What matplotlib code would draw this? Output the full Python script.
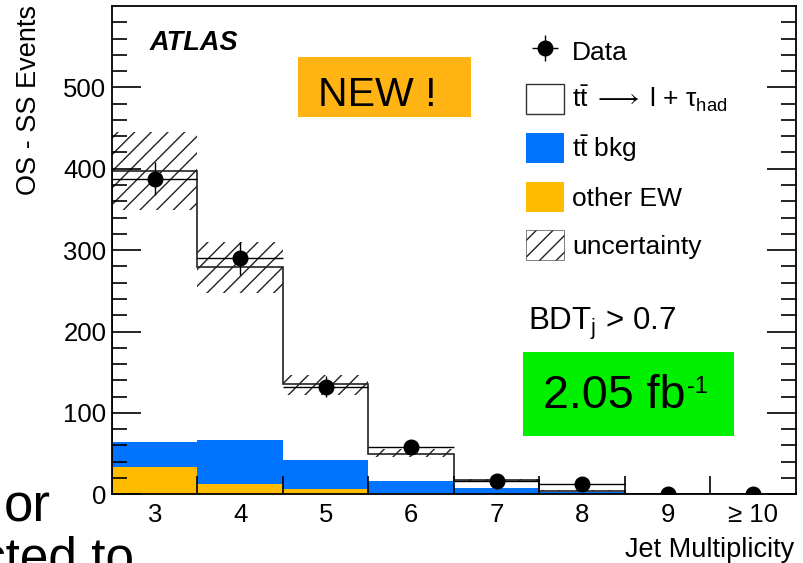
import numpy as np
import matplotlib.pyplot as plt
from matplotlib.patches import Patch, Rectangle

plt.rcParams['font.family'] = ['Liberation Sans', 'DejaVu Sans']
plt.rcParams['mathtext.fontset'] = 'custom'
plt.rcParams['mathtext.rm'] = 'Liberation Sans'
plt.rcParams['mathtext.it'] = 'Liberation Sans:italic'
plt.rcParams['mathtext.bf'] = 'Liberation Sans:bold'
plt.rcParams['mathtext.fallback'] = 'stixsans'
plt.rcParams['hatch.linewidth'] = 1.0

# jet multiplicity bins
bins = [3, 4, 5, 6, 7, 8, 9, 10]
bin_labels = ['3', '4', '5', '6', '7', '8', '9', '≥ 10']

data = [388, 290, 132, 58, 16, 13, 0, 0]
data_err = [20, 20, 13, 8, 4, 4, 0, 0]

other_ew = [33, 12.5, 6, 1, 0, 0, 0, 0]
ttbar_bkg = [31.6, 54, 36, 15.5, 8, 3, 0, 0]
signal = [333, 213, 94, 33.5, 9.6, 1.5, 0, 0]

unc_low = [349, 247, 122, 46, 15, 3.5, 0, 0]
unc_high = [445, 310, 147, 56, 19, 5.5, 0, 0]

blue = '#0074FF'
orange = '#FFBB00'

W, H = 804, 563
def fx(px):
    return px / W
def fy(py):
    return 1 - py / H

fig = plt.figure(figsize=(8.04, 5.63), dpi=100)
ax = fig.add_axes([fx(112), fy(494.3), fx(796) - fx(112), fy(6) - fy(494.3)])

x = np.array(bins)
edges = np.arange(2.5, 11.0, 1.0)
ew = np.array(other_ew)
bkg = np.array(ttbar_bkg)
sig = np.array(signal)
total = ew + bkg + sig
lo = np.array(unc_low)
hi = np.array(unc_high)

ax.bar(x, ew, width=1, color=orange, linewidth=0)
ax.bar(x, bkg, width=1, bottom=ew, color=blue, linewidth=0)
ax.bar(x, hi - lo, width=1, bottom=lo, fill=False, hatch='//', edgecolor='#222222', linewidth=0)
ax.stairs(total, edges, color='#222222', linewidth=1.2)
dat = ax.errorbar(x, data, yerr=data_err, xerr=0.5, fmt='o', color='black', ms=10.5,
                  elinewidth=1.0, capsize=0)

ax.set_xlim(2.5, 10.5)
ax.set_ylim(0, 600)

ax.set_xticks(edges[1:-1])
ax.set_xticklabels([])
ax.set_xticks(x, minor=True)
ax.set_xticklabels(bin_labels, minor=True)
ax.tick_params(axis='x', which='major', direction='in', length=13, width=1.2)
ax.tick_params(axis='x', which='minor', length=0, labelsize=18.5, pad=6)

ax.set_yticks(np.arange(0, 501, 100))
ax.set_yticks(np.arange(0, 600, 20), minor=True)
ax.tick_params(axis='y', which='both', direction='in', right=True, width=1.2, labelsize=18.5, pad=4)
ax.tick_params(axis='y', which='major', length=21)
ax.tick_params(axis='y', which='minor', length=11)
for s in ax.spines.values():
    s.set_linewidth(1.3)

fig.text(fx(29), fy(5), 'OS - SS Events', rotation=90, ha='center', va='top', fontsize=19.5)
fig.text(fx(794), fy(556.7), 'Jet Multiplicity', ha='right', va='baseline', fontsize=19.5)

fig.text(fx(150), fy(50), 'ATLAS', fontsize=19.5, weight='bold', style='italic', va='baseline')
fig.text(fx(528), fy(330), r'BDT$_{\rm j}$ > 0.7', fontsize=22.5, va='baseline')

fig.patches.append(Rectangle((fx(298), fy(117)), fx(471) - fx(298), fy(57) - fy(117),
                             transform=fig.transFigure, facecolor='#FFB414', edgecolor='none', zorder=5))
fig.text(fx(318), fy(105.7), 'NEW !', fontsize=29.5, va='baseline', zorder=6)

fig.patches.append(Rectangle((fx(523), fy(436)), fx(734) - fx(523), fy(352) - fy(436),
                             transform=fig.transFigure, facecolor='#00F000', edgecolor='none', zorder=5))
fig.text(fx(543), fy(408.3), '2.05 fb', fontsize=33.5, va='baseline', zorder=6)
fig.text(fx(687), fy(393), '-1', fontsize=17, va='baseline', zorder=6)

# slide text leaking into the screenshot
fig.text(fx(4), fy(521), 'or', fontsize=38, va='baseline')
fig.text(fx(-20), fy(574), 'cted to', fontsize=37, va='baseline')

handles = [dat,
           Patch(facecolor='white', edgecolor='#333333', linewidth=1.0),
           Patch(facecolor=blue, linewidth=0),
           Patch(facecolor=orange, linewidth=0),
           Patch(facecolor='white', edgecolor='#222222', hatch='//', linewidth=0.4)]
labels = ['Data', r'$\mathrm{t\bar{t}}\;\longrightarrow\;$l + $\mathrm{\tau_{had}}$', r'$\mathrm{t\bar{t}}$ bkg',
          'other EW', 'uncertainty']
ax.legend(handles, labels, loc='upper left', bbox_to_anchor=(fx(526), fy(36)),
          bbox_transform=fig.transFigure, frameon=False, fontsize=19, borderpad=0,
          borderaxespad=0, handlelength=1.45, handleheight=1.35, handletextpad=0.3,
          labelspacing=0.7)

fig.savefig('out.png', dpi=100)
